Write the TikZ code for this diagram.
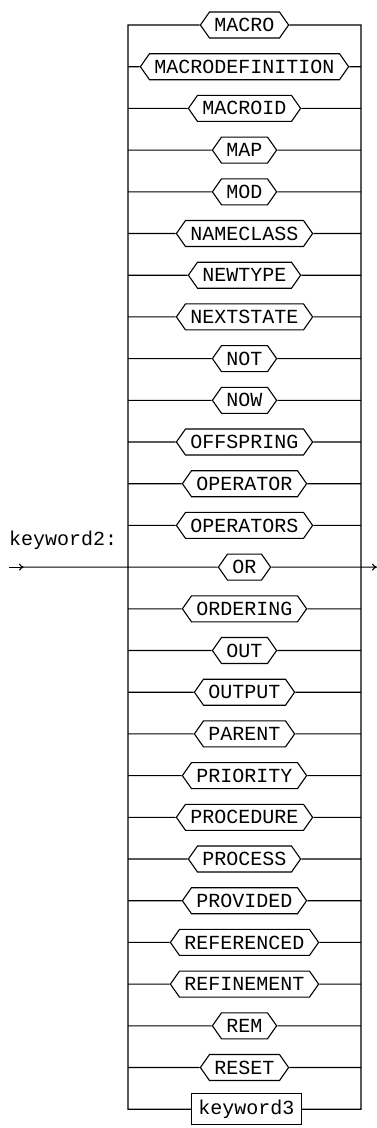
\documentclass[tikz,border=0pt]{standalone}
\usepackage{fontspec}
\setmonofont{Liberation Mono}
\usepackage{tikz}
\usetikzlibrary{shapes, arrows.meta, positioning, calc}
\tikzset{
    terminal/.style={
        signal, signal to=west and east, signal pointer angle=110,
        minimum height=26pt, inner xsep=5pt, inner ysep=0pt,
        draw=black, line width=1.1pt, fill=white,
        font=\ttfamily\fontsize{20}{20}\selectfont
    },
    nonterminal/.style={
        rectangle, minimum height=31pt, inner xsep=7pt, inner ysep=0pt,
        draw=black, line width=1.1pt, fill=white,
        font=\ttfamily\fontsize{20}{20}\selectfont
    },
    title/.style={
        anchor=base west, inner sep=0pt,
        font=\ttfamily\fontsize{20}{20}\selectfont
    },
    rail/.style={line width=1.1pt, -},
    railarrow/.style={line width=1.1pt, -{To[length=5pt,width=7pt]}},
    point/.style={coordinate}
}

\begin{document}
\begin{tikzpicture}[x=1pt, y=-1pt]
    \useasboundingbox (0,0) rectangle (377,1128);

    % alternatives, one per row
    \foreach \kw [count=\i from 0] in {MACRO, MACRODEFINITION, MACROID, MAP, MOD,
        NAMECLASS, NEWTYPE, NEXTSTATE, NOT, NOW, OFFSPRING, OPERATOR, OPERATORS,
        OR, ORDERING, OUT, OUTPUT, PARENT, PRIORITY, PROCEDURE, PROCESS, PROVIDED,
        REFERENCED, REFINEMENT, REM, RESET} {
        \pgfmathsetmacro{\ypos}{25+41.7*\i}
        \node [terminal] (kw\i) at (244.5,\ypos) {\kw};
        \node [point] (l\i) at (128,\ypos) {};
        \node [point] (r\i) at (361,\ypos) {};
    }
    \node [nonterminal] (kw26) at (246.5,1109.2) {keyword3};
    \node [point] (l26) at (128,1109.2) {};
    \node [point] (r26) at (361,1109.2) {};

    % the two rails
    \draw [rail] (kw0) -- (l0) -- (l26) -- (kw26);
    \draw [rail] (kw0) -- (r0) -- (r26) -- (kw26);
    \foreach \i in {1,...,25} {
        \draw [rail] (l\i) -- (kw\i) -- (r\i);
    }

    % entry and exit
    \node [title] (name) at (9,545) {keyword2:};
    \node [point] (in) at (9,567.1) {};
    \node [point] (inhead) at (24,567.1) {};
    \node [point] (out) at (377,567.1) {};
    \draw [railarrow] (in) -- (inhead);
    \draw [rail] (inhead) -- (l13);
    \draw [railarrow] (r13) -- (out);
\end{tikzpicture}
\end{document}
